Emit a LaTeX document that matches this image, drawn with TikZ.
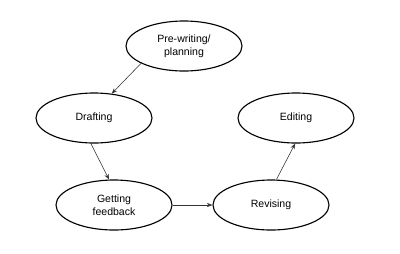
\documentclass[tikz,border=0pt]{standalone}
\usepackage{fontspec}
\setmainfont{Liberation Sans}
\usetikzlibrary{shapes.geometric, arrows.meta}
\begin{document}
\begin{tikzpicture}[x=0.025cm, y=-0.025cm,
          stage/.style={ellipse, draw=black, line width=0.8pt, fill=white, font=\fontsize{7.5}{9}\selectfont,
                        minimum width=2.9cm, minimum height=1.25cm, inner sep=0pt, align=center},
          link/.style={-{Stealth[length=4pt, width=3pt]}, line width=0.4pt, black!80}]
        \useasboundingbox (0,0) rectangle (400,253);
        \node[stage] (pre) at (184,46) {Pre-writing/\\planning};
        \node[stage] (draft) at (94,118) {Drafting};
        \node[stage] (edit) at (296,118) {Editing};
        \node[stage] (feedback) at (114,205) {Getting\\feedback};
        \node[stage] (revise) at (271,205) {Revising};
        \draw[link] (pre.202) -- (draft.54);
        \draw[link] (draft.263) -- (feedback.101);
        \draw[link] (feedback.east) -- (revise.west);
        \draw[link] (revise.78) -- (edit.268);
      \end{tikzpicture}
\end{document}
